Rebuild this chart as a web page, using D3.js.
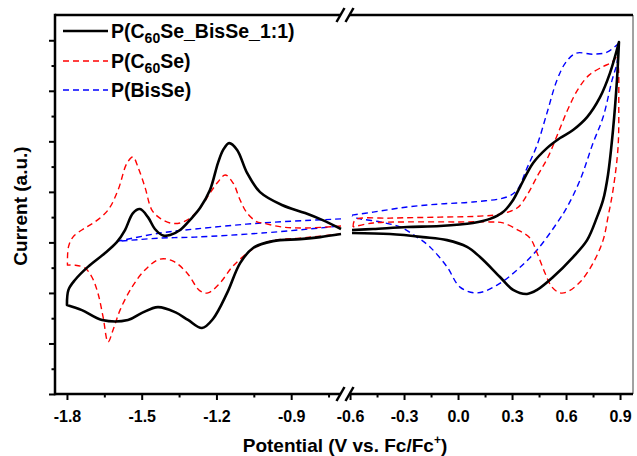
<!DOCTYPE html>
<html><head><meta charset="utf-8">
<script src="https://cdn.jsdelivr.net/npm/d3@7"></script>
<style>html,body{margin:0;padding:0;background:#fff;} svg{display:block;font-family:"Liberation Sans",Arial,sans-serif;}</style>
</head><body><svg id="c" width="637" height="456"></svg>
<script>
// ---------- DATA (Potential in V vs Fc/Fc+, Current in a.u.) ----------
const hybridLeft = [[-0.700,6.53],[-0.776,6.89],[-0.844,7.16],[-0.937,7.48],[-1.025,7.99],[-1.077,8.75],[-1.117,9.66],[-1.149,9.93],[-1.173,9.66],[-1.194,9.14],[-1.226,8.07],[-1.266,7.36],[-1.306,6.89],[-1.346,6.49],[-1.386,6.29],[-1.414,6.27],[-1.447,6.53],[-1.475,7.00],[-1.507,7.32],[-1.535,7.16],[-1.567,6.49],[-1.599,6.02],[-1.647,5.58],[-1.716,5.03],[-1.768,4.51],[-1.794,4.12],[-1.800,3.52],[-1.800,3.52],
  [-1.740,3.32],[-1.659,2.93],[-1.555,2.93],[-1.499,3.21],[-1.435,3.44],[-1.366,3.24],[-1.314,2.93],[-1.258,2.61],[-1.214,2.97],[-1.157,4.00],[-1.105,5.18],[-1.053,5.78],[-0.973,6.05],[-0.864,6.13],[-0.784,6.21],[-0.700,6.33]];
const hybridRight = [[-0.589,6.49],[-0.472,6.53],[-0.283,6.61],[-0.100,6.65],[0.083,6.77],[0.178,6.93],[0.250,7.20],[0.306,7.68],[0.344,8.19],[0.417,9.14],[0.494,9.73],[0.567,10.13],[0.639,10.45],[0.717,10.96],[0.789,11.75],[0.844,12.70],[0.894,13.93],[0.894,13.93],
  [0.883,12.43],[0.861,10.45],[0.833,8.67],[0.806,7.68],[0.772,7.00],[0.717,6.09],[0.639,5.42],[0.528,4.63],[0.439,4.12],[0.383,3.96],[0.306,4.12],[0.233,4.63],[0.122,5.42],[0.050,5.82],[-0.061,6.09],[-0.194,6.21],[-0.378,6.33],[-0.589,6.37]];
const c60Left = [[-0.700,6.65],[-0.844,6.57],[-0.937,6.61],[-1.017,6.77],[-1.037,6.81],[-1.077,7.16],[-1.105,7.68],[-1.133,8.35],[-1.165,8.67],[-1.194,8.39],[-1.226,7.95],[-1.266,7.36],[-1.306,6.96],[-1.346,6.77],[-1.386,6.77],[-1.427,6.96],[-1.459,7.28],[-1.487,8.19],[-1.515,8.98],[-1.535,9.38],[-1.559,9.14],[-1.595,8.07],[-1.635,7.28],[-1.688,6.81],[-1.728,6.57],[-1.776,6.21],[-1.794,5.82],[-1.798,5.10],[-1.798,5.10],
  [-1.768,5.10],[-1.728,4.99],[-1.700,4.63],[-1.676,4.00],[-1.655,3.05],[-1.635,2.06],[-1.615,2.53],[-1.587,3.32],[-1.539,4.23],[-1.487,4.91],[-1.427,5.34],[-1.374,5.26],[-1.318,4.79],[-1.266,4.08],[-1.234,4.00],[-1.186,4.39],[-1.133,5.07],[-1.053,5.74],[-0.985,6.05],[-0.864,6.17],[-0.784,6.25],[-0.700,6.33]];
const c60Right = [[-0.583,6.61],[-0.572,6.89],[-0.378,6.96],[-0.100,7.00],[0.122,7.04],[0.233,7.12],[0.328,7.36],[0.383,7.87],[0.444,8.67],[0.500,9.38],[0.556,10.33],[0.611,11.28],[0.667,12.07],[0.728,12.62],[0.800,12.94],[0.856,13.14],[0.886,13.40],[0.886,13.40],
  [0.892,12.82],[0.893,11.63],[0.889,9.77],[0.861,8.07],[0.833,7.00],[0.806,6.09],[0.750,5.18],[0.678,4.43],[0.606,4.04],[0.567,4.00],[0.522,4.23],[0.483,4.79],[0.439,5.58],[0.400,6.17],[0.333,6.49],[0.250,6.77],[0.178,6.81],[-0.006,6.81],[-0.283,6.81],[-0.472,6.77],[-0.583,6.61]];
const bisLeft = [[-0.700,6.93],[-1.017,6.77],[-1.286,6.53],[-1.427,6.37],[-1.599,6.04],[-1.599,6.04],[-1.427,6.17],[-1.286,6.21],[-1.017,6.37],[-0.700,6.65]];
const bisRight = [[-0.589,7.08],[-0.472,7.20],[-0.283,7.40],[-0.100,7.52],[0.083,7.60],[0.272,7.80],[0.328,8.07],[0.383,8.94],[0.439,9.85],[0.494,11.12],[0.550,12.43],[0.600,13.14],[0.656,13.49],[0.750,13.45],[0.828,13.53],[0.894,13.89],[0.894,13.89],
  [0.883,13.10],[0.856,12.43],[0.806,10.96],[0.750,9.93],[0.678,8.47],[0.606,7.40],[0.550,6.77],[0.439,5.70],[0.328,4.91],[0.217,4.31],[0.106,4.00],[0.011,4.23],[-0.061,5.03],[-0.156,5.82],[-0.228,6.21],[-0.322,6.61],[-0.433,6.81],[-0.561,6.96],[-0.589,7.05]];

const xTicksLeft = [-1.8,-1.5,-1.2,-0.9];
const xTicksRight = [-0.6,-0.3,0.0,0.3,0.6,0.9];
const xMinorLeft = [-1.65,-1.35,-1.05,-0.75];
const xMinorRight = [-0.45,-0.15,0.15,0.45,0.75];
const yMajor = [0,2,4,6,8,10,12,14];
const yMinor = [1,3,5,7,9,11,13];
const seriesNames = ["P(C60Se_BisSe_1:1)","P(C60Se)","P(BisSe)"];
const yTitle = "Current (a.u.)";

// ---------- LAYOUT ----------
const svg = d3.select("#c");
const L=55, R=633, T=15, B=394, BRK=345;
const xL = d3.scaleLinear().domain([-1.848,-0.684]).range([L,BRK]);
const xR = d3.scaleLinear().domain([-0.628,0.972]).range([BRK,R]);
const y = d3.scaleLinear().domain([0,15]).range([B,T]);

const styles = [
  {color:"#000000", width:2.6, dash:null},
  {color:"#ff0000", width:1.4, dash:"6,4"},
  {color:"#0000ff", width:1.4, dash:"6,4"}
];

function draw(data, xs, s){
  const line = d3.line().x(d=>xs(d[0])).y(d=>y(d[1])).curve(d3.curveCatmullRom.alpha(0.5));
  svg.append("path").datum(data).attr("d", line)
    .attr("fill","none").attr("stroke",s.color).attr("stroke-width",s.width)
    .attr("stroke-dasharray",s.dash).attr("stroke-linejoin","round").attr("stroke-linecap","butt");
}
draw(bisLeft, xL, styles[2]); draw(bisRight, xR, styles[2]);
draw(c60Left, xL, styles[1]); draw(c60Right, xR, styles[1]);
draw(hybridLeft, xL, styles[0]); draw(hybridRight, xR, styles[0]);

// ---------- AXES ----------
function fmt(d){ return d.toFixed(1); }
function xAxis(scale, vals, minor){
  const g = svg.append("g").attr("transform",`translate(0,${B})`)
    .call(d3.axisBottom(scale).tickValues(vals).tickSize(6).tickFormat(fmt));
  g.select(".domain").remove();
  g.selectAll("line").attr("stroke-width",2);
  g.selectAll("text").attr("y",28).attr("dy",null).attr("font-size",16).attr("font-weight","bold").attr("font-family","Liberation Sans, Arial, sans-serif").attr("fill","#000");
  const m = svg.append("g").attr("transform",`translate(0,${B})`)
    .call(d3.axisBottom(scale).tickValues(minor).tickSize(3.5).tickFormat(""));
  m.select(".domain").remove();
  m.selectAll("line").attr("stroke-width",2);
}
xAxis(xL, xTicksLeft, xMinorLeft);
xAxis(xR, xTicksRight, xMinorRight);

const ya = svg.append("g").attr("transform",`translate(${L},0)`)
  .call(d3.axisLeft(y).tickValues(yMajor).tickSize(6).tickFormat(""));
ya.select(".domain").remove(); ya.selectAll("line").attr("stroke-width",2);
const ym = svg.append("g").attr("transform",`translate(${L},0)`)
  .call(d3.axisLeft(y).tickValues(yMinor).tickSize(3.5).tickFormat(""));
ym.select(".domain").remove(); ym.selectAll("line").attr("stroke-width",2);

// frame
const frame = svg.append("g").attr("stroke","#000").attr("fill","none");
frame.append("line").attr("x1",R).attr("x2",R).attr("y1",T).attr("y2",B).attr("stroke-width",1).attr("stroke","#444");
frame.append("line").attr("x1",L).attr("x2",L).attr("y1",T-1.2).attr("y2",B+1.2).attr("stroke-width",2.5);
[T,B].forEach(yy=>{
  frame.append("line").attr("x1",L).attr("x2",340).attr("y1",yy).attr("y2",yy).attr("stroke-width",2.5);
  frame.append("line").attr("x1",350).attr("x2",R).attr("y1",yy).attr("y2",yy).attr("stroke-width",2.5);
  [340.5,349.5].forEach(cx=>{
    frame.append("line").attr("x1",cx-4).attr("x2",cx+4).attr("y1",yy+7).attr("y2",yy-7).attr("stroke-width",2.5);
  });
});

// titles
svg.append("text").attr("x",345).attr("y",452).attr("text-anchor","middle")
  .attr("font-size",19).attr("font-weight","bold")
  .call(t=>{ t.append("tspan").text("Potential (V vs. Fc/Fc");
             t.append("tspan").attr("font-size",12).attr("dy",-8).text("+");
             t.append("tspan").attr("dy",8).text(")"); });
svg.append("text").attr("transform","translate(27,206) rotate(-90)").attr("text-anchor","middle")
  .attr("font-size",19).attr("font-weight","bold").text(yTitle);

// legend
const legY = [31,61,90];
seriesNames.forEach((name,i)=>{
  const s = styles[i];
  svg.append("line").attr("x1",63).attr("x2",108).attr("y1",legY[i]).attr("y2",legY[i])
    .attr("stroke",s.color).attr("stroke-width",s.width).attr("stroke-dasharray",s.dash);
  const t = svg.append("text").attr("x",111).attr("y",legY[i]+6.8).attr("font-size",19.5).attr("font-weight","bold");
  const m = name.match(/^(P\(C)(60)(.*)$/);
  if(m){
    t.append("tspan").text(m[1]);
    t.append("tspan").attr("font-size",14).attr("dy",5).text(m[2]);
    t.append("tspan").attr("dy",-5).text(m[3]);
  } else t.text(name);
});
</script></body></html>
